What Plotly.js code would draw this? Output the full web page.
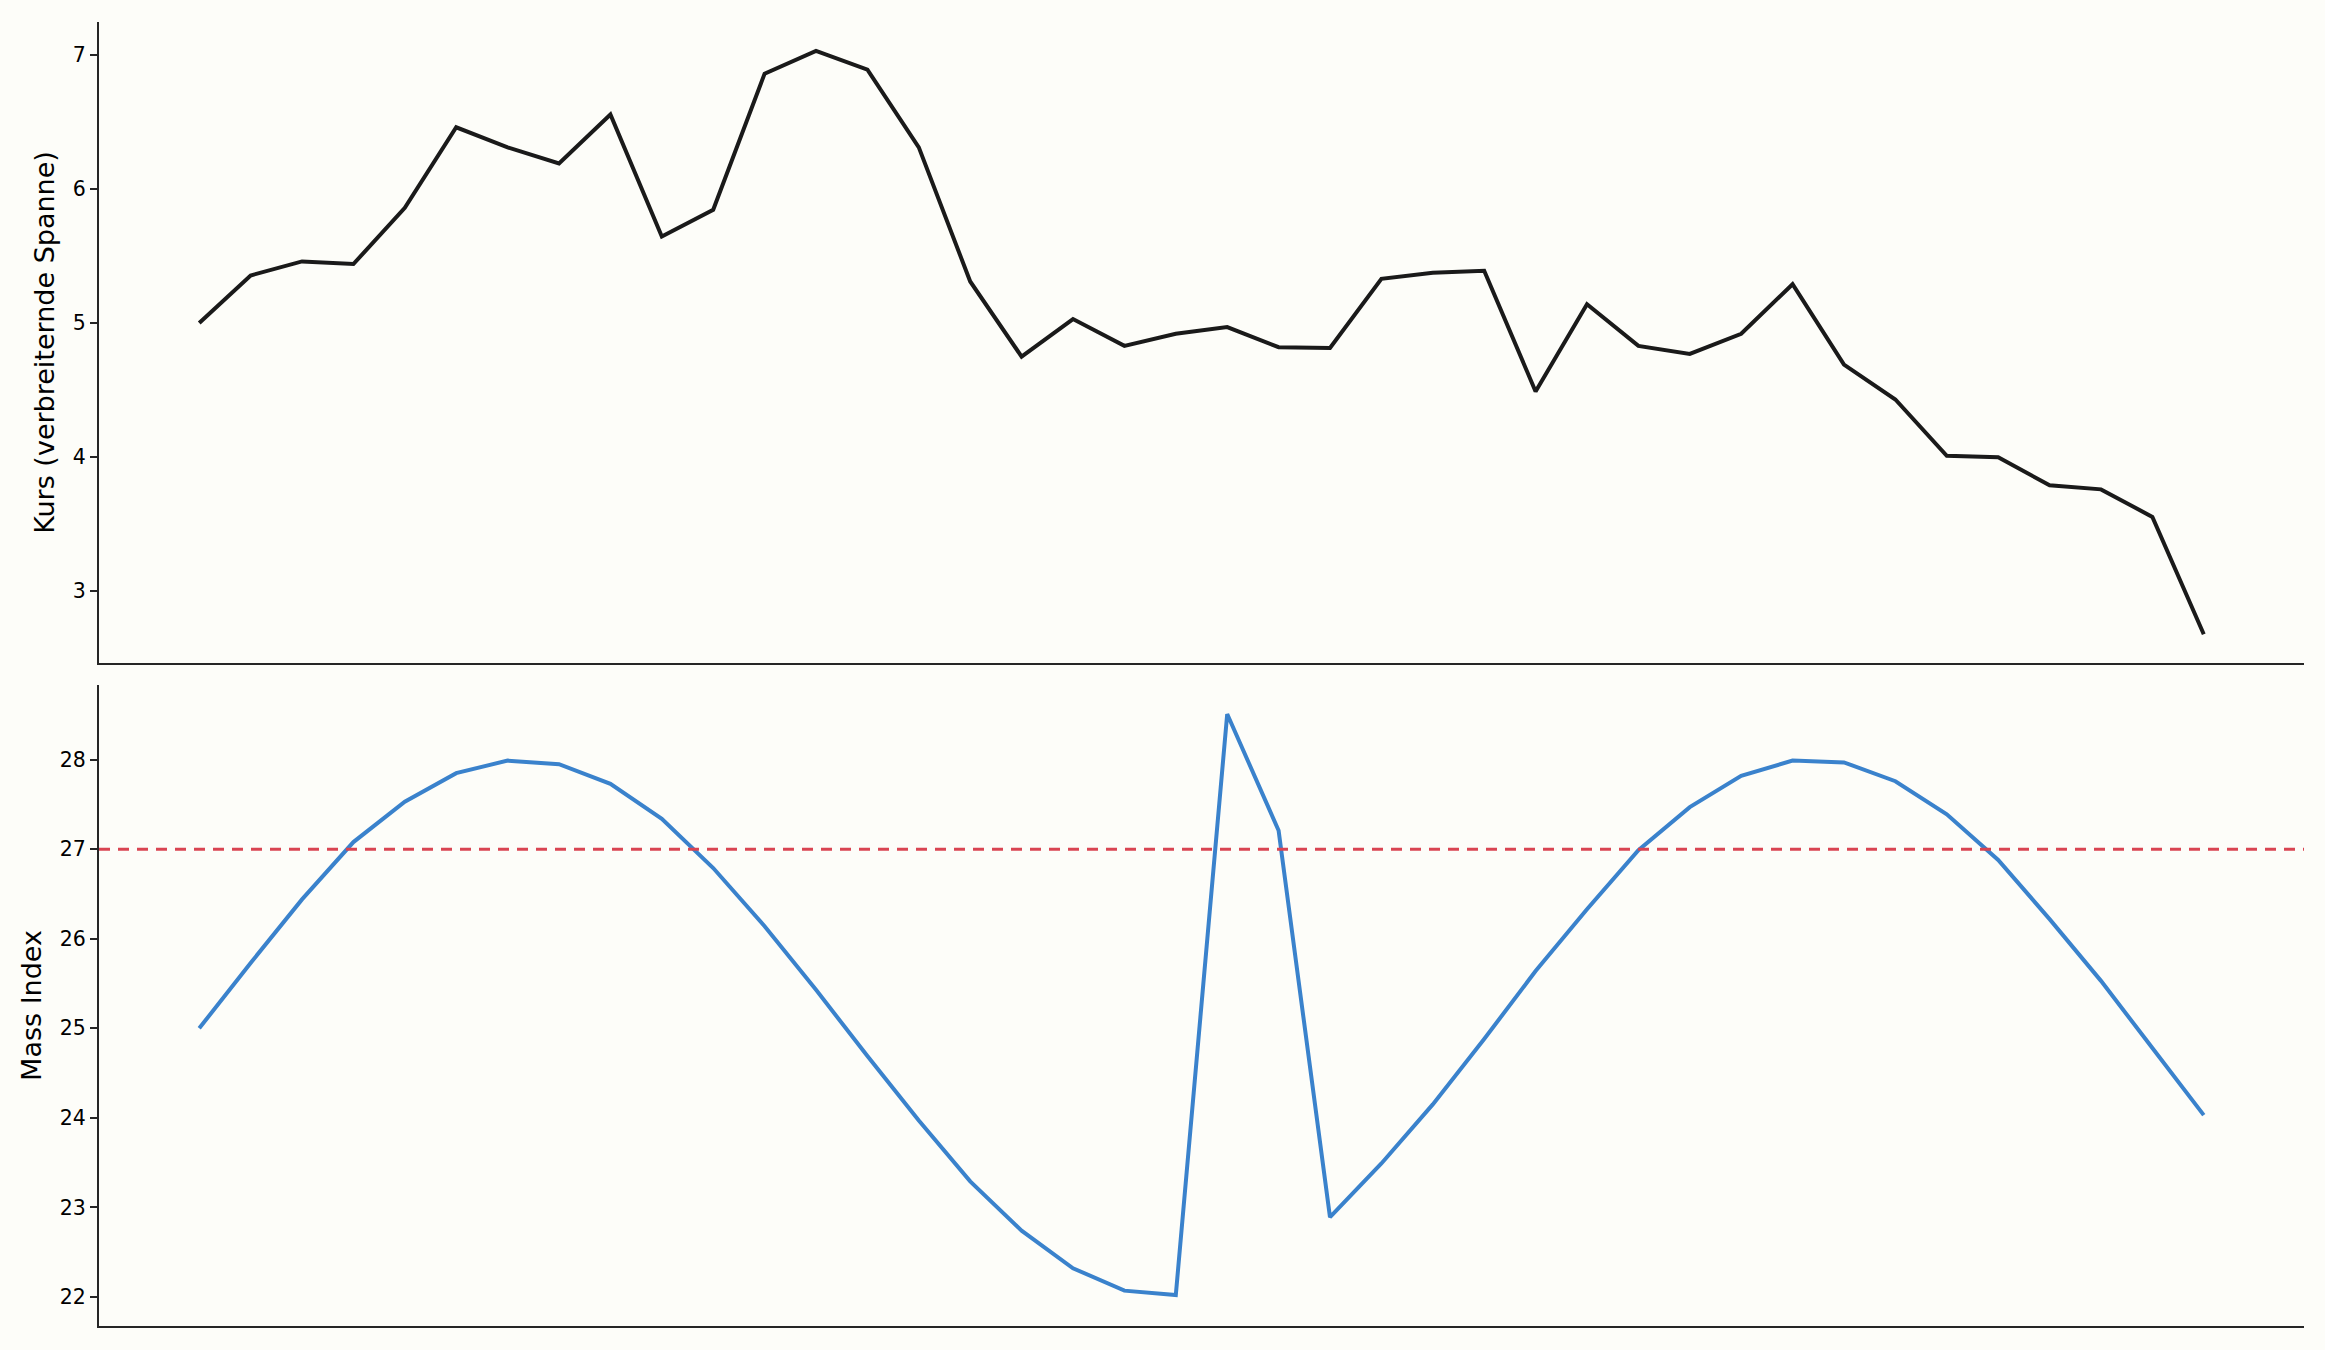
<!DOCTYPE html>
<html>
<head>
<meta charset="utf-8">
<script src="https://cdn.plot.ly/plotly-3.0.1.min.js"></script>
<style>html,body{margin:0;padding:0;background:#fdfdf9;}#chart{width:2325px;height:1350px;}</style>
</head>
<body>
<div id="chart"></div>
<script>
const periods = Array.from({length: 40}, (_, i) => i);
const kurs = [5.00, 5.355, 5.46, 5.44, 5.86, 6.46, 6.31, 6.19, 6.555, 5.645,
              5.845, 6.86, 7.03, 6.89, 6.31, 5.31, 4.75, 5.03, 4.83, 4.92,
              4.97, 4.82, 4.815, 5.33, 5.375, 5.39, 4.49, 5.14, 4.83, 4.77,
              4.92, 5.29, 4.69, 4.43, 4.01, 4.00, 3.79, 3.76, 3.555, 2.68];
const massIndex = [25.0, 25.73, 26.44, 27.08, 27.53, 27.85, 27.99, 27.95, 27.73, 27.34,
                   26.79, 26.14, 25.43, 24.69, 23.97, 23.29, 22.74, 22.32, 22.07, 22.02,
                   28.51, 27.21, 22.89, 23.49, 24.15, 24.88, 25.64, 26.33, 26.99, 27.47,
                   27.82, 27.99, 27.97, 27.76, 27.39, 26.88, 26.22, 25.53, 24.78, 24.03];
const threshold = 27;
const kursLabel = "Kurs (verbreiternde Spanne)";
const massLabel = "Mass Index";

const axisColor = "#262626";
const font = {family: "DejaVu Sans, sans-serif", size: 20.5, color: "#000"};
const titleFont = {family: "DejaVu Sans, sans-serif", size: 27, color: "#000"};

const traces = [
  {x: periods, y: kurs, type: "scatter", mode: "lines", xaxis: "x", yaxis: "y",
   line: {color: "#1a1a1a", width: 4}, hoverinfo: "skip"},
  {x: periods, y: massIndex, type: "scatter", mode: "lines", xaxis: "x2", yaxis: "y2",
   line: {color: "#3a82cc", width: 4}, hoverinfo: "skip"}
];

const xbase = {range: [-1.95, 40.95], showticklabels: false, ticks: "", showgrid: false,
  zeroline: false, showline: true, linecolor: axisColor, linewidth: 2};
const ybase = {showgrid: false, zeroline: false, showline: true, linecolor: axisColor, linewidth: 2,
  ticks: "outside", ticklen: 7, tickwidth: 2, tickcolor: axisColor, tickfont: font, dtick: 1};

const layout = {
  width: 2325, height: 1350,
  margin: {l: 99, r: 21, t: 22, b: 24},
  paper_bgcolor: "#fdfdf9", plot_bgcolor: "#fdfdf9",
  showlegend: false,
  font: font,
  xaxis: Object.assign({}, xbase, {anchor: "y", domain: [0, 1]}),
  xaxis2: Object.assign({}, xbase, {anchor: "y2", domain: [0, 1]}),
  yaxis: Object.assign({}, ybase, {domain: [0.5084, 1], range: [2.465, 7.245],
    title: {text: kursLabel, font: titleFont, standoff: 10}}),
  yaxis2: Object.assign({}, ybase, {domain: [0, 0.4916], range: [21.675, 28.835],
    title: {text: massLabel, font: titleFont, standoff: 10}}),
  shapes: [
    {type: "line", xref: "x2 domain", yref: "y2", x0: 0, x1: 1, y0: threshold, y1: threshold,
     line: {color: "#d94452", width: 2.8, dash: "11px,8px"}}
  ]
};

Plotly.newPlot("chart", traces, layout, {staticPlot: true, displayModeBar: false});
</script>
</body>
</html>
